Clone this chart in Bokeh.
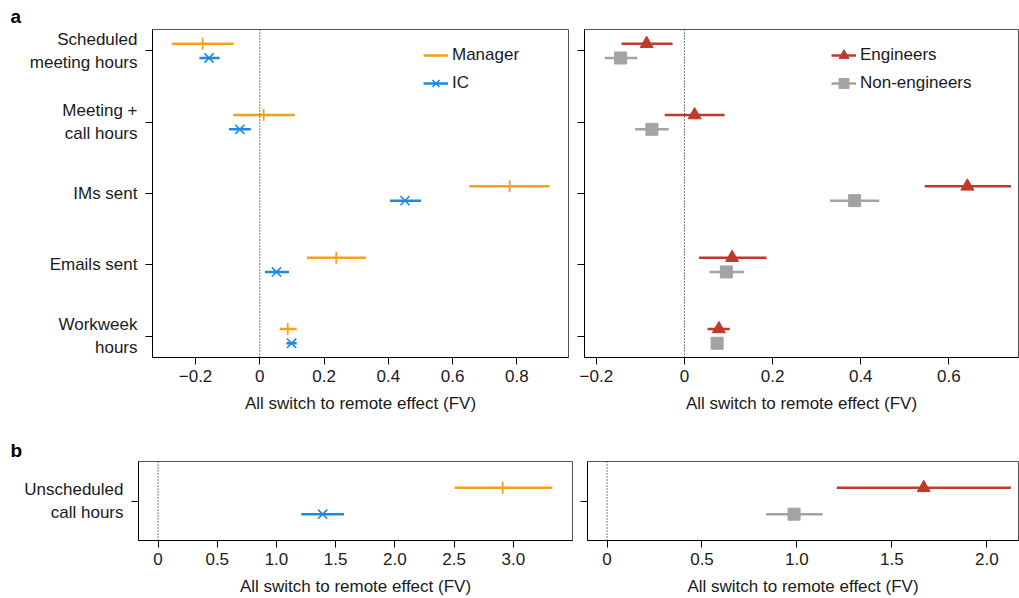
from bokeh.plotting import figure
from bokeh.layouts import row, column
from bokeh.models import (ColumnDataSource, Range1d, FixedTicker, CustomJSTickFormatter,
                          Span)
from bokeh.embed import file_html
from bokeh.resources import INLINE

# ---------------- data ----------------
categories = ["Scheduled\nmeeting hours", "Meeting +\ncall hours", "IMs sent",
              "Emails sent", "Workweek\nhours"]
manager_est = [-0.178, 0.012, 0.778, 0.238, 0.087]
manager_lo = [-0.274, -0.083, 0.652, 0.147, 0.062]
manager_hi = [-0.081, 0.109, 0.902, 0.330, 0.115]
ic_est = [-0.158, -0.062, 0.452, 0.052, 0.099]
ic_lo = [-0.188, -0.096, 0.405, 0.016, 0.083]
ic_hi = [-0.125, -0.028, 0.502, 0.091, 0.115]
eng_est = [-0.086, 0.023, 0.642, 0.108, 0.078]
eng_lo = [-0.143, -0.045, 0.545, 0.033, 0.052]
eng_hi = [-0.027, 0.091, 0.741, 0.186, 0.103]
non_est = [-0.145, -0.074, 0.386, 0.095, 0.074]
non_lo = [-0.181, -0.112, 0.330, 0.057, 0.062]
non_hi = [-0.107, -0.036, 0.442, 0.135, 0.087]

b_categories = ["Unscheduled\ncall hours"]
b_manager_est = [2.91]
b_manager_lo = [2.505]
b_manager_hi = [3.33]
b_ic_est = [1.39]
b_ic_lo = [1.21]
b_ic_hi = [1.57]
b_eng_est = [1.668]
b_eng_lo = [1.21]
b_eng_hi = [2.127]
b_non_est = [0.985]
b_non_lo = [0.838]
b_non_hi = [1.135]

top_ticks_left = [-0.2, 0, 0.2, 0.4, 0.6, 0.8]
top_ticks_right = [-0.2, 0, 0.2, 0.4, 0.6]
bot_ticks_left = [0, 0.5, 1.0, 1.5, 2.0, 2.5, 3.0]
bot_ticks_right = [0, 0.5, 1.0, 1.5, 2.0]

x_title = "All switch to remote effect (FV)"

# ---------------- style ----------------
ORANGE = "#F4A11D"
BLUE = "#1E88E5"
RED = "#C0392B"
GRAY = "#A3A3A3"
FONT = "Liberation Sans"
TXT = "#1a1a1a"
FS = "17px"

fmt_code = """
if (Math.abs(tick) < 1e-9) { return "0"; }
var s = Math.abs(tick).toFixed(1);
return (tick < 0 ? "\u2212" : "") + s;
"""


def make_fig(width, height, xr, yr, ml, mr, mt, mb, xticks, cats, show_labels,
             letter=None, letter_offset=0, letter_standoff=4):
    p = figure(width=width, height=height, x_range=Range1d(*xr), y_range=Range1d(*yr),
               output_backend="svg", toolbar_location=None,
               min_border_left=ml, min_border_right=mr, min_border_top=mt,
               min_border_bottom=mb)
    if letter:
        p.title.text = letter
        p.title.align = "left"
        p.title.offset = letter_offset
        p.title.standoff = letter_standoff
        p.title.text_font = FONT
        p.title.text_font_size = "19px"
        p.title.text_font_style = "bold"
        p.title.text_color = "black"
    p.xgrid.visible = False
    p.ygrid.visible = False
    p.background_fill_color = "white"
    p.border_fill_color = "white"
    p.outline_line_color = "#555555"
    p.outline_line_width = 1

    n = len(cats)
    pos = list(range(n, 0, -1))
    p.yaxis.ticker = FixedTicker(ticks=pos)
    if show_labels:
        p.yaxis.major_label_overrides = {pp: c for pp, c in zip(pos, cats)}
        p.yaxis.major_label_standoff = 8
    else:
        p.yaxis.major_label_overrides = {pp: "" for pp in pos}
        p.yaxis.major_label_standoff = 0
        p.yaxis.major_label_text_font_size = "0px"
    p.xaxis.ticker = FixedTicker(ticks=xticks)
    p.xaxis.formatter = CustomJSTickFormatter(code=fmt_code)
    p.xaxis.axis_label = x_title
    p.xaxis.axis_label_standoff = 9
    for ax in (p.xaxis[0], p.yaxis[0]):
        ax.major_tick_in = 0
        ax.major_tick_out = 7
        ax.minor_tick_line_color = None
        ax.axis_line_color = "black"
        ax.major_tick_line_color = "black"
        ax.major_label_text_font = FONT
        ax.major_label_text_color = TXT
        ax.axis_label_text_font = FONT
        ax.axis_label_text_font_style = "normal"
        ax.axis_label_text_font_size = FS
        ax.axis_label_text_color = TXT
    p.xaxis.major_label_text_font_size = FS
    if show_labels:
        p.yaxis.major_label_text_font_size = FS
    p.add_layout(Span(location=0, dimension="height", line_color="black",
                      line_dash="1 2", line_width=1))
    return p, pos


def add_series(p, pos, off, est, lo, hi, color, marker, size, label, angle=0.0,
               lw=2.5, mlw=2.0):
    ys = [pp + off for pp in pos]
    src = ColumnDataSource(dict(y=ys, est=est, lo=lo, hi=hi))
    p.segment(x0="lo", y0="y", x1="hi", y1="y", source=src, line_color=color,
              line_width=lw, legend_label=label)
    p.scatter(x="est", y="y", source=src, marker=marker, size=size, angle=angle,
              line_color=color, fill_color=color, line_width=mlw, legend_label=label)


def style_legend(p, x, y):
    lg = p.legend[0]
    lg.location = (x, y)
    lg.padding = 0
    lg.margin = 0
    lg.spacing = 0
    lg.glyph_width = 25
    lg.glyph_height = 28
    lg.label_height = 28
    lg.label_standoff = 4
    lg.border_line_alpha = 0
    lg.background_fill_alpha = 0
    lg.label_text_font = FONT
    lg.label_text_font_size = FS
    lg.label_text_color = TXT


# ---------------- panel a ----------------
a1, pos_a = make_fig(575, 436, (-0.334, 0.961), (0.7, 5.3), 152, 7, 29, 79,
                     top_ticks_left, categories, True,
                     letter="a", letter_offset=-142, letter_standoff=5)
add_series(a1, pos_a, 0.1, manager_est, manager_lo, manager_hi, ORANGE, "dash", 12,
           "Manager", angle=1.5707963, mlw=1.8)
add_series(a1, pos_a, -0.1, ic_est, ic_lo, ic_hi, BLUE, "x", 13, "IC", mlw=1.6)
style_legend(a1, 271, 260)

a2, _ = make_fig(444, 436, (-0.227, 0.758), (0.7, 5.3), 9, 1, 29, 79,
                 top_ticks_right, categories, False)
add_series(a2, pos_a, 0.1, eng_est, eng_lo, eng_hi, RED, "triangle", 13,
           "Engineers", mlw=1.0)
add_series(a2, pos_a, -0.1, non_est, non_lo, non_hi, GRAY, "square", 12,
           "Non-engineers", mlw=1.0)
style_legend(a2, 247, 260)

# ---------------- panel b ----------------
b1, pos_b = make_fig(579, 162, (-0.165, 3.50), (0.7, 1.3), 138, 7, 25, 55,
                     bot_ticks_left, b_categories, True,
                     letter="b", letter_offset=-128, letter_standoff=1)
add_series(b1, pos_b, 0.1, b_manager_est, b_manager_lo, b_manager_hi, ORANGE, "dash",
           12, "Manager", angle=1.5707963, mlw=1.8)
add_series(b1, pos_b, -0.1, b_ic_est, b_ic_lo, b_ic_hi, BLUE, "x", 13, "IC", mlw=1.6)
b1.legend[0].visible = False

b2, _ = make_fig(440, 162, (-0.103, 2.167), (0.7, 1.3), 8, 1, 25, 55,
                 bot_ticks_right, b_categories, False)
add_series(b2, pos_b, 0.1, b_eng_est, b_eng_lo, b_eng_hi, RED, "triangle", 13,
           "Engineers", mlw=1.0)
add_series(b2, pos_b, -0.1, b_non_est, b_non_lo, b_non_hi, GRAY, "square", 12,
           "Non-engineers", mlw=1.0)
b2.legend[0].visible = False

layout = column(row(a1, a2), row(b1, b2))
open("out.html", "w").write(file_html(layout, INLINE))
